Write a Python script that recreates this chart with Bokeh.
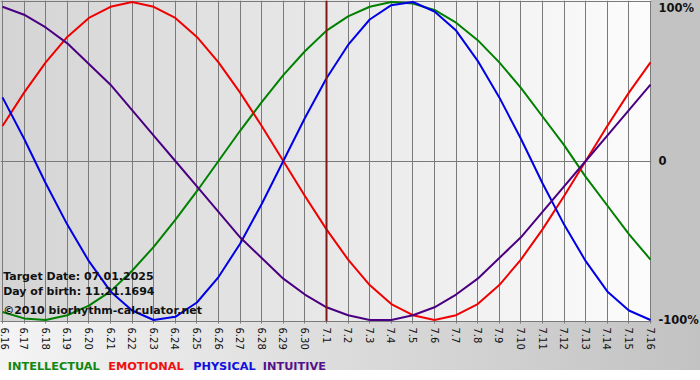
import math
from bokeh.plotting import figure
from bokeh.layouts import column
from bokeh.models import Range1d, FixedTicker, LinearAxis, Span, Label
from bokeh.core.properties import value
from bokeh.embed import file_html
from bokeh.resources import INLINE

# ---- data ----
days = list(range(31))
day_labels = ["6.16", "6.17", "6.18", "6.19", "6.20", "6.21", "6.22", "6.23", "6.24",
              "6.25", "6.26", "6.27", "6.28", "6.29", "6.30", "7.1", "7.2", "7.3",
              "7.4", "7.5", "7.6", "7.7", "7.8", "7.9", "7.10", "7.11", "7.12",
              "7.13", "7.14", "7.15", "7.16"]
intellectual = [-0.95, -0.99, -1.00, -0.97, -0.91, -0.82, -0.69, -0.54, -0.37, -0.19,
                0.00, 0.19, 0.37, 0.54, 0.69, 0.82, 0.91, 0.97, 1.00, 0.99, 0.95,
                0.87, 0.76, 0.62, 0.46, 0.28, 0.10, -0.10, -0.28, -0.46, -0.62]
emotional = [0.22, 0.43, 0.62, 0.78, 0.90, 0.97, 1.00, 0.97, 0.90, 0.78, 0.62,
             0.43, 0.22, 0.00, -0.22, -0.43, -0.62, -0.78, -0.90, -0.97, -1.00,
             -0.97, -0.90, -0.78, -0.62, -0.43, -0.22, 0.00, 0.22, 0.43, 0.62]
physical = [0.40, 0.14, -0.14, -0.40, -0.63, -0.82, -0.94, -1.00, -0.98, -0.89,
            -0.73, -0.52, -0.27, 0.00, 0.27, 0.52, 0.73, 0.89, 0.98, 1.00, 0.94,
            0.82, 0.63, 0.40, 0.14, -0.14, -0.40, -0.63, -0.82, -0.94, -1.00]
intuitive = [0.97, 0.92, 0.84, 0.74, 0.61, 0.48, 0.32, 0.16, 0.00, -0.16, -0.32,
             -0.48, -0.61, -0.74, -0.84, -0.92, -0.97, -1.00, -1.00, -0.97, -0.92,
             -0.84, -0.74, -0.61, -0.48, -0.32, -0.16, 0.00, 0.16, 0.32, 0.48]
target_index = 15
y_ticks = [-1, 0, 0.96]
y_tick_labels = ["-100%", "0", "100%"]
series_names = ["INTELLECTUAL", "EMOTIONAL", "PHYSICAL", "INTUITIVE"]
series_colors = ["#008000", "#f00000", "#0000e6", "#4b0082"]
legend_colors = ["#118811", "#ee1111", "#1111dd", "#55118a"]

FW, FH = 651, 321
RB, BB = 49, 31
W = FW + RB

bg = ("linear-gradient(to right, #d4d4d4, #fcfcfc) 0px 0px / %dpx %dpx no-repeat, "
      "linear-gradient(#c3c3c3, #c3c3c3) %dpx 0px / %dpx %dpx no-repeat, "
      "linear-gradient(to right, #f4f4f4, #c2c2c2) 0px %dpx / %dpx %dpx no-repeat, "
      "#ffffff") % (FW, FH, FW, RB, FH, FH, W, BB)

p = figure(frame_width=FW, frame_height=FH,
           x_range=Range1d(-0.0926, 30.046), y_range=Range1d(-1.0094, 1.0094),
           output_backend="svg", toolbar_location=None,
           min_border_left=0, min_border_top=0, min_border_right=RB, min_border_bottom=BB,
           border_fill_color=None, background_fill_color=None, outline_line_color=None,
           y_axis_location=None)
p.styles = {"background": bg}

# grid
p.xgrid.ticker = FixedTicker(ticks=days)
p.xgrid.grid_line_color = "#7a7a7a"
p.xgrid.grid_line_width = 1
p.ygrid.ticker = FixedTicker(ticks=[0, 1])
p.ygrid.grid_line_color = "#7a7a7a"
p.ygrid.grid_line_width = 1

# bottom axis
xa = p.xaxis[0]
xa.ticker = FixedTicker(ticks=days)
xa.major_label_overrides = {d: lab for d, lab in zip(days, day_labels)}
xa.major_label_orientation = -math.pi / 2
xa.major_label_text_font = "DejaVu Sans"
xa.major_label_text_font_size = "10px"
xa.major_label_text_color = "#111111"
xa.major_label_standoff = 4
xa.axis_line_color = "#7a7a7a"
xa.major_tick_line_color = "#7a7a7a"
xa.major_tick_in = 0
xa.major_tick_out = 2
xa.minor_tick_line_color = None

# right axis
ra = LinearAxis(ticker=FixedTicker(ticks=y_ticks))
ra.major_label_overrides = {t: lab for t, lab in zip(y_ticks, y_tick_labels)}
ra.major_label_text_font = "DejaVu Sans"
ra.major_label_text_font_style = "bold"
ra.major_label_text_font_size = "11.5px"
ra.major_label_text_color = "#111111"
ra.major_label_standoff = 7
ra.major_tick_in = 0
ra.major_tick_out = 0
ra.minor_tick_in = 0
ra.minor_tick_out = 0
ra.axis_line_color = None
ra.major_tick_line_color = None
ra.minor_tick_line_color = None
p.add_layout(ra, "right")

# curves
for vals, col in zip([intellectual, emotional, physical, intuitive], series_colors):
    p.line(days, vals, line_color=col, line_width=2, line_join="round")

# target date marker
p.add_layout(Span(location=target_index, dimension="height", line_color="#801818", line_width=2))

# info texts
info = ["Target Date: 07.01.2025", "Day of birth: 11.21.1694", "\u00a92010 biorhythm-calculator.net"]
info_y = [-0.726, -0.821, -0.942]
for t, yy in zip(info, info_y):
    p.add_layout(Label(x=0.03, y=yy, text=t, text_font="DejaVu Sans", text_font_style="bold",
                       text_font_size="11px", text_color="#111111", text_baseline="alphabetic"))

# legend strip below the chart
LH = 21
p2 = figure(frame_width=W, frame_height=LH, x_range=Range1d(0, W), y_range=Range1d(0, LH),
            output_backend="svg", toolbar_location=None,
            min_border_left=0, min_border_top=0, min_border_right=0, min_border_bottom=0,
            border_fill_color=None, background_fill_color=None, outline_line_color=None,
            x_axis_location=None, y_axis_location=None)
p2.xgrid.visible = False
p2.ygrid.visible = False
p2.styles = {"background": "linear-gradient(to right, #f4f4f4, #c2c2c2) 0px 0px / %dpx 18px no-repeat, #ffffff" % W}
legend_x = [7.3, 107.7, 192.7, 262.3]
p2.text(x=legend_x, y=[LH - 14] * 4, text=series_names, text_color=legend_colors,
        text_font=value("DejaVu Sans"), text_font_style="bold", text_font_size=value("11.3px"),
        text_baseline="alphabetic", text_align="left")

layout = column(p, p2, spacing=0)
open("out.html", "w").write(file_html(layout, INLINE))
